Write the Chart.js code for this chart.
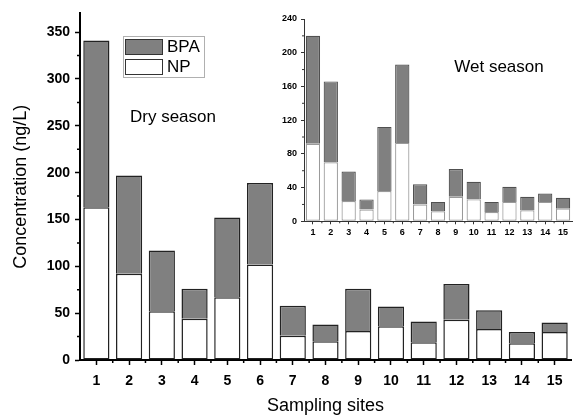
<!DOCTYPE html>
<html>
<head>
<meta charset="utf-8">
<script src="https://cdn.jsdelivr.net/npm/chart.js@4.4.1/dist/chart.umd.min.js"></script>
<style>
  body { margin: 0; background: #fff; }
  #wrap { position: relative; width: 577px; height: 418px; }
  #main { position: absolute; left: 0; top: 0; }
  #inset { position: absolute; left: 270px; top: 5px; }
</style>
</head>
<body>
<div id="wrap">
  <canvas id="main" width="577" height="418"></canvas>
  <canvas id="inset" width="307" height="245"></canvas>
</div>
<script>
const sites = ["1", "2", "3", "4", "5", "6", "7", "8", "9", "10", "11", "12", "13", "14", "15"];

// dry season (main chart), ng/L
const dryNP  = [163, 92, 52, 44, 67, 102, 26, 20, 31, 36, 19, 43, 33, 18, 30];
const dryBPA = [178, 105, 65, 32, 85, 87, 32, 18, 45, 21, 22, 38, 20, 12, 10];

// wet season (inset), ng/L
const wetNP  = [92, 70, 24, 14, 36, 93, 20, 12, 29, 26, 11, 23, 13, 23, 15];
const wetBPA = [128, 96, 35, 12, 76, 93, 24, 11, 33, 21, 12, 18, 16, 10, 13];

const dryTicks = [0, 50, 100, 150, 200, 250, 300, 350];
const wetTicks = [0, 40, 80, 120, 160, 200, 240];

const FONT = "'Liberation Sans', Arial, sans-serif";
const GREY = "#808080";

Chart.defaults.font.family = FONT;
Chart.defaults.color = "#000";

// small ticks between the labelled ones
function minorTicks(step, len, color, width) {
  return {
    id: "minorTicks",
    afterDraw(chart) {
      const ctx = chart.ctx;
      const x = chart.scales.x, y = chart.scales.y;
      ctx.save();
      ctx.strokeStyle = color;
      ctx.lineWidth = width;
      ctx.beginPath();
      for (let v = y.min; v <= y.max; v += step) {
        if (y.ticks.some(t => t.value === v)) continue;
        const py = y.getPixelForValue(v);
        ctx.moveTo(x.left - len, py);
        ctx.lineTo(x.left, py);
      }
      for (let i = 0; i < sites.length - 1; i++) {
        const px = (x.getPixelForValue(i) + x.getPixelForValue(i + 1)) / 2;
        ctx.moveTo(px, y.bottom);
        ctx.lineTo(px, y.bottom + len);
      }
      ctx.stroke();
      ctx.restore();
    }
  };
}

const dryNotes = {
  id: "dryNotes",
  afterDraw(chart) {
    const ctx = chart.ctx;
    ctx.save();
    // legend box
    ctx.strokeStyle = "#b0b0b0";
    ctx.lineWidth = 1;
    ctx.strokeRect(123.5, 36.5, 81, 41);
    ctx.fillStyle = GREY;
    ctx.fillRect(125.5, 39.5, 37, 15);
    ctx.strokeStyle = "#333";
    ctx.strokeRect(125.5, 39.5, 37, 15);
    ctx.fillStyle = "#fff";
    ctx.fillRect(125.5, 59.5, 37, 15);
    ctx.strokeRect(125.5, 59.5, 37, 15);
    ctx.fillStyle = "#000";
    ctx.font = "17px " + FONT;
    ctx.textBaseline = "middle";
    ctx.textAlign = "left";
    ctx.fillText("BPA", 167, 47.5);
    ctx.fillText("NP", 167, 67.5);
    ctx.fillText("Dry season", 130, 117);
    ctx.restore();
  }
};

const wetNotes = {
  id: "wetNotes",
  afterDraw(chart) {
    const ctx = chart.ctx;
    ctx.save();
    ctx.fillStyle = "#000";
    ctx.font = "17px " + FONT;
    ctx.textBaseline = "middle";
    ctx.textAlign = "center";
    ctx.fillText("Wet season", 229, 62);
    ctx.restore();
  }
};

new Chart(document.getElementById("main"), {
  type: "bar",
  data: {
    labels: sites,
    datasets: [
      { label: "NP", data: dryNP, backgroundColor: "#fff", borderColor: "#222",
        borderWidth: 1.5, borderSkipped: false },
      { label: "BPA", data: dryBPA, backgroundColor: GREY, borderColor: "#222",
        borderWidth: 1.5, borderSkipped: "start" }
    ]
  },
  options: {
    responsive: false,
    animation: false,
    layout: { padding: { top: 8, right: 6, left: 0, bottom: 0 } },
    datasets: { bar: { categoryPercentage: 1, barPercentage: 0.8 } },
    plugins: { legend: { display: false }, tooltip: { enabled: false } },
    scales: {
      x: {
        stacked: true,
        afterFit: (s) => { s.height = 58; },
        grid: { offset: false, drawOnChartArea: false, tickLength: 5, tickColor: "#000", tickWidth: 1.5 },
        border: { color: "#000", width: 2 },
        ticks: { font: { size: 14, weight: "bold" }, padding: 8, maxRotation: 0 },
        title: { display: true, text: "Sampling sites", font: { size: 18 }, padding: { top: 0, bottom: 1 } }
      },
      y: {
        stacked: true,
        min: 0,
        max: 370,
        afterFit: (s) => { s.width = 80; },
        afterBuildTicks: (s) => { s.ticks = dryTicks.map(v => ({ value: v })); },
        grid: { drawOnChartArea: false, tickLength: 5, tickColor: "#000", tickWidth: 1.5 },
        border: { color: "#000", width: 2 },
        ticks: { font: { size: 14, weight: "bold" }, padding: 5 },
        title: { display: true, text: "Concentration (ng/L)", font: { size: 18 }, padding: { top: 10, bottom: 0 } }
      }
    }
  },
  plugins: [minorTicks(25, 3, "#000", 1.5), dryNotes]
});

new Chart(document.getElementById("inset"), {
  type: "bar",
  data: {
    labels: sites,
    datasets: [
      { label: "NP", data: wetNP, backgroundColor: "#fff", borderColor: "#9a9a9a",
        borderWidth: 1.2, borderSkipped: false },
      { label: "BPA", data: wetBPA, backgroundColor: GREY, borderColor: "#505050",
        borderWidth: 1.2, borderSkipped: "start" }
    ]
  },
  options: {
    responsive: false,
    animation: false,
    layout: { padding: { top: 14, right: 5, left: 0, bottom: 0 } },
    datasets: { bar: { categoryPercentage: 1, barPercentage: 0.8 } },
    plugins: { legend: { display: false }, tooltip: { enabled: false } },
    scales: {
      x: {
        stacked: true,
        afterFit: (s) => { s.height = 28.7; },
        grid: { offset: false, drawOnChartArea: false, tickLength: 3, tickColor: "#333" },
        border: { color: "#333", width: 1 },
        ticks: { font: { size: 9, weight: "bold" }, padding: 3, maxRotation: 0, autoSkip: false }
      },
      y: {
        stacked: true,
        min: 0,
        max: 240,
        afterFit: (s) => { s.width = 34; },
        afterBuildTicks: (s) => { s.ticks = wetTicks.map(v => ({ value: v })); },
        grid: { drawOnChartArea: false, tickLength: 3, tickColor: "#333" },
        border: { color: "#333", width: 1 },
        ticks: { font: { size: 9, weight: "bold" }, padding: 4 }
      }
    }
  },
  plugins: [minorTicks(20, 2, "#333", 1), wetNotes]
});
</script>
</body>
</html>
